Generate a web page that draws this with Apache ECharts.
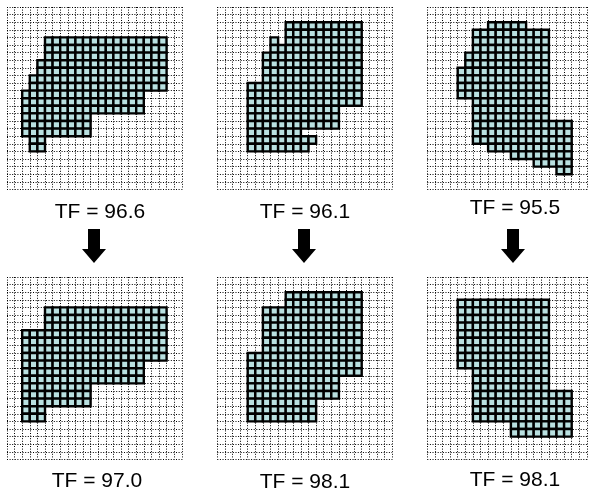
<!DOCTYPE html>
<html>
<head>
<meta charset="utf-8">
<script src="https://cdn.jsdelivr.net/npm/echarts@6/dist/echarts.min.js"></script>
<style>html,body{margin:0;padding:0;background:#fff;}#c{width:599px;height:497px;}</style>
</head>
<body>
<div id="c"></div>
<script>
// grid sizes (columns per panel), rows shared
const gridCols = [23, 23, 21, 23, 23, 21];
const gridRows = 24;
const tfLabels = ['TF = 96.6', 'TF = 96.1', 'TF = 95.5', 'TF = 97.0', 'TF = 98.1', 'TF = 98.1'];
// filled runs per panel: [rowFrom, rowTo, colFrom, colTo] (inclusive)
const shape1 = [[4,6,5,20],[7,8,4,20],[9,10,3,20],[11,13,2,17],[14,16,2,10],[17,18,3,4]];
const shape2 = [[2,3,9,18],[4,4,7,7],[4,4,9,18],[5,5,7,18],[6,9,6,18],[10,12,4,18],[13,15,4,15],[16,16,4,10],[17,17,4,12],[18,18,4,11]];
const shape3 = [[2,2,8,12],[3,5,6,15],[6,7,5,15],[8,11,4,15],[12,14,6,15],[15,17,6,18],[18,18,8,18],[19,19,11,18],[20,20,14,18],[21,21,17,18]];
const shape4 = [[4,6,5,20],[7,10,2,20],[11,13,2,17],[14,16,2,10],[17,18,2,4]];
const shape5 = [[2,3,9,18],[4,9,6,18],[10,12,4,18],[13,15,4,15],[16,18,4,12]];
const shape6 = [[3,11,4,15],[12,14,6,15],[15,18,6,18],[19,20,11,18]];
const shapes = [shape1, shape2, shape3, shape4, shape5, shape6];

// layout
const cell = 7.6;
const panelLeft = [7, 217.3, 427.3, 7, 217.3, 427.3];
const panelTop = [7, 7, 7, 277, 277, 277];
const labelPos = [[100, 212], [305, 212], [515, 208], [97, 481], [305, 482], [515, 480]];
const arrowX = [94, 304, 513];

function cellsOf(runs) {
  const out = [];
  runs.forEach(([r0, r1, c0, c1]) => {
    for (let r = r0; r <= r1; r++) for (let c = c0; c <= c1; c++) out.push([c, r]);
  });
  return out;
}

const grids = [], xAxes = [], yAxes = [], series = [];
const dotted = { show: true, lineStyle: { color: '#000', width: 1, type: [1, 1.6] } };
for (let i = 0; i < 6; i++) {
  grids.push({ left: panelLeft[i], top: panelTop[i], width: gridCols[i] * cell, height: gridRows * cell, containLabel: false });
  xAxes.push({ gridIndex: i, type: 'value', min: 0, max: gridCols[i], interval: 1,
    axisLine: { show: false }, axisTick: { show: false }, axisLabel: { show: false }, splitLine: dotted });
  yAxes.push({ gridIndex: i, type: 'value', min: 0, max: gridRows, interval: 1, inverse: true,
    axisLine: { show: false }, axisTick: { show: false }, axisLabel: { show: false }, splitLine: dotted });
  series.push({
    type: 'custom', xAxisIndex: i, yAxisIndex: i, data: cellsOf(shapes[i]), silent: true,
    renderItem: function (params, api) {
      const p = api.coord([api.value(0), api.value(1)]);
      const s = api.size([1, 1]);
      return { type: 'rect', shape: { x: p[0], y: p[1], width: s[0], height: s[1] },
        style: { fill: '#b9e0e0', stroke: '#000', lineWidth: 2.4 } };
    }
  });
}

const graphic = [];
for (let i = 0; i < 6; i++) {
  graphic.push({ type: 'text', x: labelPos[i][0], y: labelPos[i][1],
    style: { text: tfLabels[i], fill: '#000', font: '21px "Liberation Sans", Arial, sans-serif', align: 'center', verticalAlign: 'middle' } });
}
arrowX.forEach(x => {
  graphic.push({ type: 'polygon', shape: { points: [[x - 6, 229], [x + 6, 229], [x + 6, 249], [x + 12, 249], [x, 263], [x - 12, 249], [x - 6, 249]] },
    style: { fill: '#000' } });
});

const chart = echarts.init(document.getElementById('c'), null, { renderer: 'canvas' });
chart.setOption({ animation: false, backgroundColor: '#fff', grid: grids, xAxis: xAxes, yAxis: yAxes, series: series, graphic: graphic });
</script>
</body>
</html>
